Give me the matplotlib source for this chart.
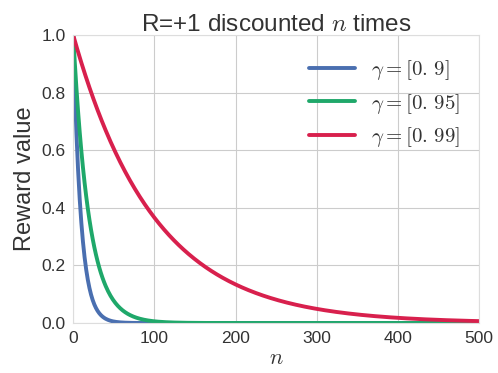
import numpy as np
import matplotlib
matplotlib.use("Agg")
from matplotlib import pyplot as plt
import seaborn as sns

sns.set_style("whitegrid")
plt.rcParams['mathtext.fontset'] = 'cm'
plt.rcParams['font.family'] = ['Liberation Sans', 'DejaVu Sans']
plt.rcParams['text.color'] = '#333333'
plt.rcParams['axes.labelcolor'] = '#333333'
plt.rcParams['xtick.color'] = '#333333'
plt.rcParams['ytick.color'] = '#333333'

# discount factors from the legend, reward = gamma ** n
gammas = [0.9, 0.95, 0.99]
labels = [r'$\gamma=[0.\,9]$', r'$\gamma=[0.\,95]$', r'$\gamma=[0.\,99]$']
colors = ['#4a6fb0', '#1fa86a', '#d8204d']
steps = np.arange(0, 501)

fig, ax = plt.subplots(figsize=(4.98, 3.73), dpi=100)

for g, lab, c in zip(gammas, labels, colors):
    ax.plot(steps, np.power(g, steps), color=c, lw=2.8, label=lab)

ax.set_xlim(0, 500)
ax.set_ylim(0, 1.0)
ax.set_title(r'R=+1 discounted $n$ times', fontsize=17.5, pad=3)
ax.set_xlabel(r'$n$', fontsize=16, labelpad=2)
ax.set_ylabel('Reward value', fontsize=17, labelpad=4)
ax.tick_params(labelsize=12.5, pad=2)
ax.legend(loc='upper right', frameon=False, fontsize=15, handlelength=2.2,
          labelspacing=0.45, bbox_to_anchor=(1.0, 0.985))
for s in ax.spines.values():
    s.set_color('#dddddd')

fig.subplots_adjust(left=0.147, right=0.962, top=0.906, bottom=0.134)
fig.savefig('out.png')
